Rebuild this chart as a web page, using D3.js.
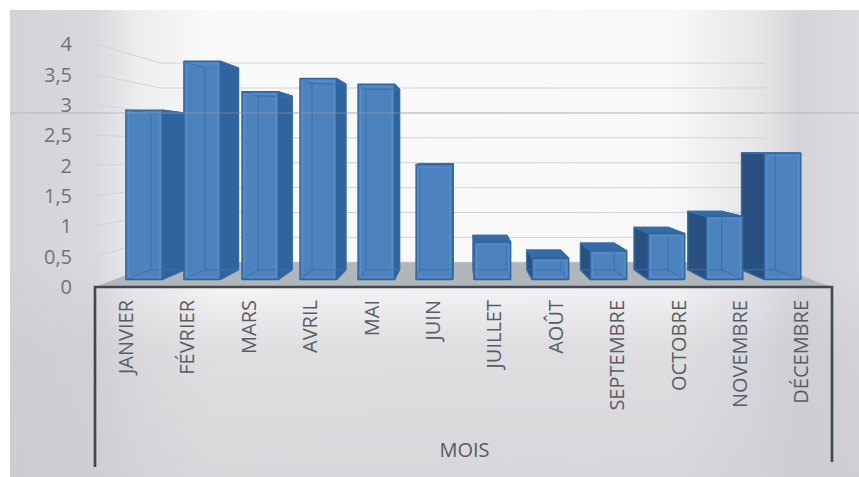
<!DOCTYPE html>
<html>
<head>
<meta charset="utf-8">
<script src="https://cdn.jsdelivr.net/npm/d3@7"></script>
<style>
  html, body { margin: 0; padding: 0; background: #ffffff; }
  svg { display: block; }
</style>
</head>
<body>
<svg id="chart" width="859" height="477"></svg>
<script>
// Monthly values, one per category
const months = ["JANVIER", "FÉVRIER", "MARS", "AVRIL", "MAI", "JUIN",
                "JUILLET", "AOÛT", "SEPTEMBRE", "OCTOBRE", "NOVEMBRE", "DÉCEMBRE"];
const values = [2.95, 3.8, 3.27, 3.5, 3.4, 2.0, 0.65, 0.37, 0.5, 0.8, 1.1, 2.2];
const yTicks = [0, 0.5, 1, 1.5, 2, 2.5, 3, 3.5, 4];
const xTitle = "MOIS";

const svg = d3.select("#chart");
const FONT = "'Open Sans', 'Noto Sans', sans-serif";

// Front plane of the 3-D box
const frontLeft = 95, frontRight = 832;
const x = d3.scaleBand().domain(months).range([frontLeft, frontRight])
  .paddingInner(0.37).paddingOuter(0.185);
const y = d3.scaleLinear().domain([0, 4]).range([287, 44]);

// One-point perspective: depth d in [0,1] pulls a point toward the vanishing point
const vp = [461, 150];
const dWall = 0.18, dFront = 0.055, dBack = 0.126;
const proj = (X, Y, d) => [X + d * (vp[0] - X), Y + d * (vp[1] - Y)];
const poly = pts => "M" + pts.map(p => p[0].toFixed(2) + "," + p[1].toFixed(2)).join("L") + "Z";

const fr = d3.formatLocale({ decimal: ",", thousands: " ", grouping: [3], currency: ["", "€"] });
const fmt = fr.format("~g");

// ---- paper background ----
const defs = svg.append("defs");
const gh = defs.append("linearGradient").attr("id", "paperH")
  .attr("x1", 0).attr("x2", 1).attr("y1", 0).attr("y2", 0);
[[0, "#d3d3d7"], [0.1, "#d9d9dd"], [0.15, "#ececee"], [0.24, "#fafafa"],
 [0.78, "#f8f8f9"], [0.88, "#e6e6e9"], [0.93, "#d5d5d9"], [1, "#dcdce0"]]
  .forEach(([o, c]) => gh.append("stop").attr("offset", o).attr("stop-color", c));
const gv = defs.append("linearGradient").attr("id", "paperV")
  .attr("x1", 0).attr("x2", 0).attr("y1", 0).attr("y2", 1);
[[0, "#c9c9ce", 0], [0.55, "#c9c9ce", 0], [0.72, "#c9c9ce", 0.55], [1, "#c9c9ce", 0.7]]
  .forEach(([o, c, a]) => gv.append("stop").attr("offset", o).attr("stop-color", c).attr("stop-opacity", a));

svg.append("rect").attr("x", 10).attr("y", 10).attr("width", 849).attr("height", 467)
  .attr("fill", "url(#paperH)");
svg.append("rect").attr("x", 10).attr("y", 10).attr("width", 849).attr("height", 467)
  .attr("fill", "url(#paperV)");

// ---- walls: gridlines on the left side wall and the back wall ----
const grid = svg.append("g").attr("fill", "none").attr("stroke", "#d4d3d8").attr("stroke-width", 1);
yTicks.forEach(t => {
  const a = [frontLeft, y(t)];
  const b = proj(frontLeft, y(t), dWall);
  const c = proj(frontRight, y(t), dWall);
  grid.append("path").attr("d", `M${a[0]},${a[1]}L${b[0]},${b[1]}L${c[0]},${c[1]}`);
});

// ---- floor ----
const floorPts = [[frontLeft, y(0)], [frontRight, y(0)],
  proj(frontRight, y(0), dWall), proj(frontLeft, y(0), dWall)];
svg.append("path").attr("d", poly(floorPts)).attr("fill", "#b1b6ba");

// ---- bars ----
const bars = months.map((m, i) => ({ m, v: values[i], i }));
const left = bars.filter(b => x(b.m) + x.bandwidth() / 2 < vp[0]);
const right = bars.filter(b => x(b.m) + x.bandwidth() / 2 >= vp[0]).reverse();
const order = left.concat(right);

const barG = svg.append("g");
order.forEach(b => {
  const X0 = x(b.m), X1 = X0 + x.bandwidth();
  const Yt = y(b.v), Yb = y(0);
  const f = { tl: proj(X0, Yt, dFront), tr: proj(X1, Yt, dFront), br: proj(X1, Yb, dFront), bl: proj(X0, Yb, dFront) };
  const k = { tl: proj(X0, Yt, dBack), tr: proj(X1, Yt, dBack), br: proj(X1, Yb, dBack), bl: proj(X0, Yb, dBack) };
  const g = barG.append("g").attr("stroke-linejoin", "round");

  // side face turned toward the viewer
  if (f.tr[0] < vp[0]) {
    g.append("path").attr("d", poly([f.tr, k.tr, k.br, f.br])).attr("fill", "#30649c")
      .attr("stroke", "#2a5a8f").attr("stroke-width", 1.2);
  }
  if (f.tl[0] > vp[0]) {
    g.append("path").attr("d", poly([f.tl, k.tl, k.bl, f.bl])).attr("fill", "#2a5081")
      .attr("stroke", "#26507f").attr("stroke-width", 1.2);
  }
  // top face when seen from above
  if (f.tl[1] > vp[1]) {
    g.append("path").attr("d", poly([f.tl, f.tr, k.tr, k.tl])).attr("fill", "#346ba4")
      .attr("stroke", "#2a5d94").attr("stroke-width", 1.2);
  }
  // front face
  g.append("path").attr("d", poly([f.tl, f.tr, f.br, f.bl])).attr("fill", "#4c83bf")
    .attr("stroke", "#2e65a0").attr("stroke-width", 1.4);
  // far edges seen through the glassy face
  const hid = g.append("g").attr("fill", "none").attr("stroke", "#3a71ad").attr("stroke-width", 1.2)
    .attr("stroke-opacity", 0.9);
  hid.append("path").attr("d", poly([k.tl, k.tr, k.br, k.bl]));
  ["tl", "tr", "br", "bl"].forEach(c =>
    hid.append("path").attr("d", `M${f[c][0]},${f[c][1]}L${k[c][0]},${k[c][1]}`));
  // a soft inner highlight
  g.append("path").attr("d", poly([
      [f.tl[0] + 2.5, f.tl[1] + 2.5], [f.tr[0] - 2.5, f.tr[1] + 2.5],
      [f.br[0] - 2.5, f.br[1] - 2.5], [f.bl[0] + 2.5, f.bl[1] - 2.5]]))
    .attr("fill", "none").attr("stroke", "#6b9dd2").attr("stroke-width", 1).attr("stroke-opacity", 0.5);
});

// ---- category axis frame ----
svg.append("path")
  .attr("d", `M${frontLeft},467L${frontLeft},${y(0)}L${frontRight},${y(0)}L${frontRight},462`)
  .attr("fill", "none").attr("stroke", "#3d4851").attr("stroke-width", 2.6);

// ---- value labels ----
svg.append("g").selectAll("text").data(yTicks).join("text")
  .attr("x", 72).attr("y", d => y(d)).attr("dy", "0.36em")
  .attr("text-anchor", "end")
  .attr("font-family", FONT).attr("font-size", 20).attr("fill", "#727276")
  .text(d => fmt(d));

// ---- category labels ----
svg.append("g").selectAll("text").data(months).join("text")
  .attr("transform", d => `translate(${x(d) + x.bandwidth() / 2},300) rotate(-90)`)
  .attr("text-anchor", "end").attr("dy", "0.36em")
  .attr("font-family", FONT).attr("font-size", 20).attr("fill", "#585d63")
  .text(d => d);

// ---- axis title ----
svg.append("text").attr("x", (frontLeft + frontRight) / 2 + 1).attr("y", 450).attr("dy", "0.36em")
  .attr("text-anchor", "middle")
  .attr("font-family", FONT).attr("font-size", 20).attr("fill", "#5a5a5e")
  .text(xTitle);

// ---- thin crease running across the sheet ----
svg.append("line").attr("x1", 10).attr("x2", 859).attr("y1", 113).attr("y2", 113)
  .attr("stroke", "#a89aa2").attr("stroke-width", 1.2).attr("stroke-opacity", 0.55);
</script>
</body>
</html>
